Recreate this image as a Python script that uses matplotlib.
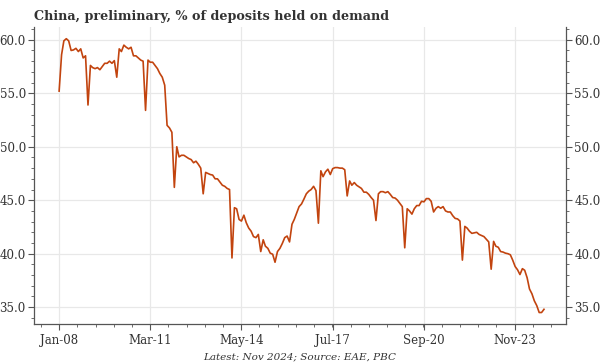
import pandas as pd
import matplotlib
matplotlib.use('Agg')
import matplotlib.pyplot as plt
import matplotlib.dates as mdates
import numpy as np

# monthly share of demand deposits, Jan 2008 - Nov 2024
values = [
    55.2, 58.6, 59.9, 60.1, 59.9, 59.0, 59.05, 59.2, 58.9, 59.15, 58.3, 58.5,      # 2008
    53.9, 57.6, 57.4, 57.3, 57.4, 57.2, 57.5, 57.8, 57.8, 58.0, 57.8, 58.05,       # 2009
    56.5, 59.15, 58.9, 59.5, 59.3, 59.15, 59.3, 58.5, 58.5, 58.3, 58.1, 58.0,      # 2010
    53.4, 58.1, 57.9, 57.9, 57.6, 57.3, 56.85, 56.5, 55.75, 52.0, 51.75, 51.35,    # 2011
    46.2, 50.0, 49.05, 49.2, 49.2, 49.05, 48.9, 48.8, 48.5, 48.65, 48.35, 48.0,    # 2012
    45.6, 47.6, 47.5, 47.4, 47.35, 47.0, 47.0, 46.7, 46.4, 46.3, 46.1, 46.0,       # 2013
    39.6, 44.3, 44.2, 43.2, 43.05, 43.6, 42.9, 42.4, 42.1, 41.6, 41.5, 41.8,       # 2014
    40.2, 41.3, 40.7, 40.5, 40.05, 39.95, 39.2, 40.2, 40.5, 40.95, 41.5, 41.65,    # 2015
    41.1, 42.75, 43.2, 43.8, 44.4, 44.65, 45.1, 45.6, 45.85, 46.0, 46.3, 45.9,     # 2016
    42.85, 47.75, 47.2, 47.65, 47.9, 47.4, 47.95, 48.05, 48.05, 48.0, 48.0, 47.85, # 2017
    45.4, 46.8, 46.4, 46.65, 46.4, 46.25, 46.1, 45.75, 45.75, 45.55, 45.25, 45.0,  # 2018
    43.1, 45.6, 45.8, 45.8, 45.7, 45.8, 45.55, 45.25, 45.2, 45.0, 44.7, 44.4,      # 2019
    40.55, 44.2, 44.0, 43.7, 44.2, 44.5, 44.5, 44.9, 44.85, 45.15, 45.15, 44.9,    # 2020
    43.9, 44.25, 44.4, 44.25, 44.4, 44.0, 43.9, 43.9, 43.55, 43.3, 43.25, 43.05,   # 2021
    39.4, 42.55, 42.4, 42.1, 41.9, 41.95, 42.0, 41.8, 41.7, 41.6, 41.35, 41.1,     # 2022
    38.55, 41.15, 40.7, 40.6, 40.2, 40.15, 40.05, 40.0, 39.9, 39.4, 38.8, 38.5,    # 2023
    38.05, 38.6, 38.45, 37.75, 36.7, 36.25, 35.6, 35.15, 34.5, 34.5, 34.8,         # 2024
]
dates = pd.date_range('2008-01-01', periods=len(values), freq='MS')

tick_dates = pd.date_range('2008-01-01', periods=6, freq='38MS')
tick_labels = ['Jan-08', 'Mar-11', 'May-14', 'Jul-17', 'Sep-20', 'Nov-23']
y_ticks = [35, 40, 45, 50, 55, 60]

line_color = '#c2440f'
text_color = '#333333'
grid_color = '#e8e8e8'

plt.rcParams['font.family'] = 'DejaVu Serif'

fig = plt.figure(figsize=(6, 3.64), dpi=100)
ax = fig.add_axes([0.057, 0.11, 0.886, 0.816])

ax.plot(dates, values, color=line_color, linewidth=1.2)

# x axis: major ticks every 38 months, 4 minor ticks in between
tick_nums = mdates.date2num(tick_dates)
step = tick_nums[1] - tick_nums[0]
minor = np.arange(tick_nums[0] - step, tick_nums[-1] + step, step / 5)
ax.set_xticks(tick_nums)
ax.set_xticklabels(tick_labels)
ax.set_xticks(minor, minor=True)
x0 = mdates.date2num(pd.Timestamp('2008-01-01'))
month = step / 38
ax.set_xlim(x0 - 10.4 * month, x0 + 211.4 * month)

ax.set_ylim(33.43, 61.2)
ax.set_yticks(y_ticks)
ax.set_yticklabels(['%.1f' % v for v in y_ticks])
ax.set_yticks(np.arange(34, 62, 1), minor=True)

ax.grid(True, which='major', color=grid_color, linewidth=0.9)
ax.set_axisbelow(True)

for s in ['left', 'right', 'bottom']:
    ax.spines[s].set_color('#555555')
    ax.spines[s].set_linewidth(0.9)
ax.spines['top'].set_visible(False)

ax.tick_params(axis='both', which='both', colors='#555555', labelcolor=text_color,
               labelsize=8.5)
ax.tick_params(axis='y', which='major', length=4, left=True, right=True,
               labelleft=True, labelright=True, pad=2)
ax.tick_params(axis='y', which='minor', length=2.5, left=True, right=True)
ax.tick_params(axis='x', which='major', length=4, pad=3)
ax.tick_params(axis='x', which='minor', length=2.5)

fig.text(0.057, 0.955, 'China, preliminary, % of deposits held on demand',
         fontsize=9.2, fontweight='bold', color=text_color, ha='left', va='center')
fig.text(0.5, 0.02, 'Latest: Nov 2024; Source: EAE, PBC', fontsize=7.5,
         style='italic', color=text_color, ha='center', va='center')

fig.savefig('out.png', dpi=100)
